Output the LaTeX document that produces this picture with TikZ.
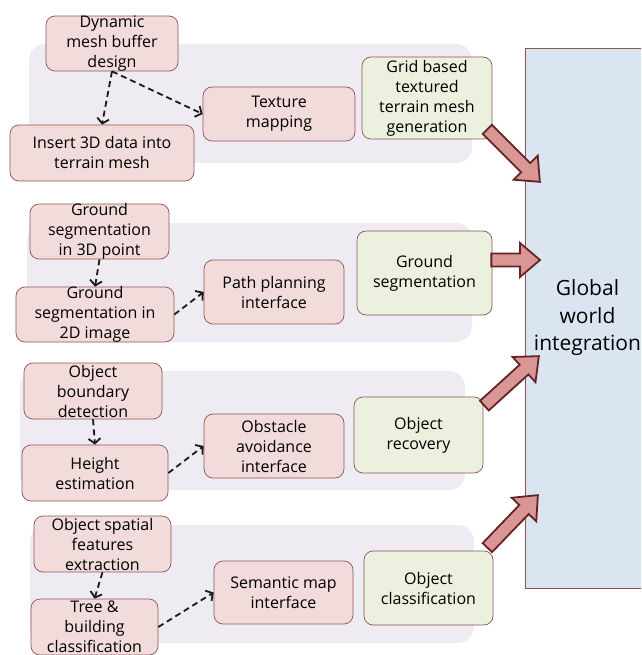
\documentclass[tikz,border=0pt]{standalone}
\usepackage{fontspec}
\setmainfont{Open Sans}
\usetikzlibrary{arrows.meta,calc}

\definecolor{taskfill}{HTML}{F2DCDB}
\definecolor{taskline}{HTML}{8E5454}
\definecolor{resfill}{HTML}{EBF1DE}
\definecolor{groupfill}{HTML}{EEEBF3}
\definecolor{worldfill}{HTML}{DBE5F1}
\definecolor{arrowfill}{HTML}{D99694}
\definecolor{arrowline}{HTML}{632523}

% fixed box, text may run over the edge
\newcommand{\boxtxt}[3]{\parbox[c][#2pt][c]{#1pt}{\centering #3}}
% block arrow from #1 to #2
\newcommand{\blockarrow}[2]{%
	\draw[bigarrow] let \p1=($(#2)-(#1)$), \n1={atan2(\y1,\x1)}, \n2={veclen(\x1,\y1)} in
		[shift={(#1)}, rotate=\n1] (0,6.5) -- (\n2-20,6.5) -- (\n2-20,17) -- (\n2,0)
		-- (\n2-20,-17) -- (\n2-20,-6.5) -- (0,-6.5) -- cycle;}

\begin{document}
\begin{tikzpicture}[x=1pt, y=-1pt,
		task/.style={draw=taskline, fill=taskfill, rounded corners=9pt, inner sep=0pt, line width=.7pt, font=\fontsize{16}{20}\selectfont},
		result/.style={task, fill=resfill},
		group/.style={fill=groupfill, rounded corners=16pt},
		dep/.style={draw=black!90, line width=1.8pt, dash pattern=on 6pt off 4pt, -{Straight Barb[length=5pt,width=12pt]}},
		bigarrow/.style={draw=arrowline, fill=arrowfill, line width=1.8pt, line join=miter}]
	\clip (0,0) rectangle (641,655);

	% group backgrounds
	\fill[group] (29,44) rectangle (472,163);
	\fill[group] (27,223) rectangle (472,342);
	\fill[group] (20,371) rectangle (465,490);
	\fill[group] (30,525) rectangle (474,643);

	\node (world) at (587.5,318) [draw=taskline, fill=worldfill, line width=.8pt, minimum width=125pt, minimum height=540pt, inner sep=0pt, align=center, font=\fontsize{21}{27.5}\selectfont] {Global\\world\\integration};

	% terrain mesh
	\node (dyn) at (112,43.5) [task] {\boxtxt{132}{55}{Dynamic\\mesh buffer\\design}};
	\node (ins) at (102,153) [task] {\boxtxt{184}{56}{Insert 3D data into\\terrain mesh}};
	\node (tex) at (279,114) [task] {\boxtxt{152}{54}{Texture\\mapping}};
	\node (grid) at (427,98) [result] {\boxtxt{130}{82}{Grid based\\textured\\terrain mesh\\generation}};

	% ground
	\node (g3d) at (99.5,231.5) [task] {\boxtxt{139}{55}{Ground\\segmentation\\in 3D point}};
	\node (g2d) at (95,314.5) [task] {\boxtxt{158}{55}{Ground\\segmentation in\\2D image}};
	\node (path) at (274,292) [task] {\boxtxt{140}{64}{Path planning\\interface}};
	\node (gseg) at (424.5,273) [result] {\boxtxt{135}{84}{Ground\\segmentation}};

	% obstacles
	\node (obd) at (93,391) [task] {\boxtxt{138}{56}{Object\\boundary\\detection}};
	\node (hgt) at (95,473) [task] {\boxtxt{146}{56}{Height\\estimation}};
	\node (obs) at (274,446) [task] {\boxtxt{140}{64}{Obstacle\\avoidance\\interface}};
	\node (orec) at (418.5,435) [result] {\boxtxt{129}{76}{Object\\recovery}};

	% objects
	\node (osf) at (102.5,544) [task] {\boxtxt{137}{56}{Object spatial\\features\\extraction}};
	\node (tree) at (94.5,627) [task] {\boxtxt{127}{56}{Tree \&\\building\\classification}};
	\node (sem) at (283.5,592.5) [task] {\boxtxt{139}{63}{Semantic map\\interface}};
	\node (ocls) at (428.5,588) [result] {\boxtxt{129}{74}{Object\\classification}};

	\draw[dep] (dyn.south) -- (ins.north);
	\draw[dep] (dyn.south) -- (tex.west);
	\draw[dep] (g3d.south) -- (g2d.north);
	\draw[dep] (g2d.east) -- (path.west);
	\draw[dep] (obd.south) -- (hgt.north);
	\draw[dep] (hgt.east) -- (obs.west);
	\draw[dep] (osf.south) -- (tree.north);
	\draw[dep] (tree.east) -- (sem.west);

	% into the world model
	\coordinate (a1) at ($(grid.south east)+(-5,-10)$);
	\coordinate (a2) at ($(gseg.east)+(-1,-13)$);
	\coordinate (a3) at ($(orec.north east)+(1,9)$);
	\coordinate (a4) at ($(ocls.north east)+(-6,-3)$);
	\coordinate (t1) at (540,182);
	\coordinate (t2) at (540,260);
	\coordinate (t3) at (539,356);
	\coordinate (t4) at (538,495);
	\blockarrow{a1}{t1}
	\blockarrow{a2}{t2}
	\blockarrow{a3}{t3}
	\blockarrow{a4}{t4}
\end{tikzpicture}
\end{document}
